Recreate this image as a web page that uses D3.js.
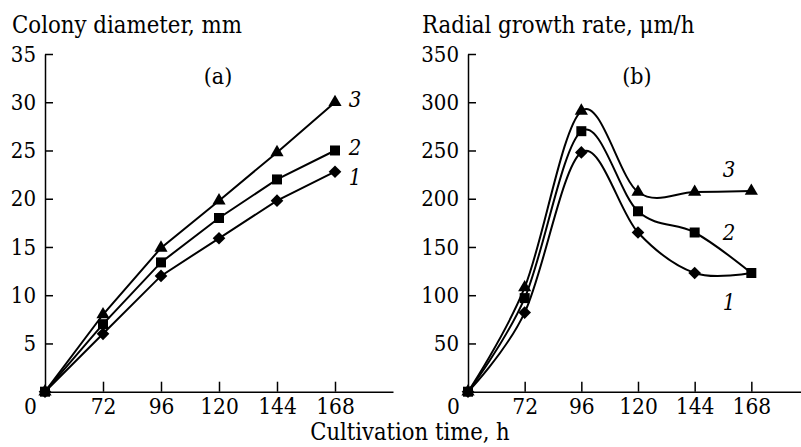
<!DOCTYPE html>
<html>
<head>
<meta charset="utf-8">
<script src="https://cdn.jsdelivr.net/npm/d3@7/dist/d3.min.js"></script>
<style>
  body { margin: 0; background: #fff; }
  .axis path, .axis line { stroke: #000; stroke-width: 1.5; }
</style>
</head>
<body>
<div id="chart"></div>
<script>
// x categories (hours) - last slot is empty, the axis runs a bit past 168
let hours = ["0", "72", "96", "120", "144", "168", ""];

// (a) colony diameter, mm
let diamYTicks = [5, 10, 15, 20, 25, 30, 35];
let diam1 = [0, 6, 12, 15.9, 19.8, 22.8];
let diam2 = [0, 7, 13.4, 18, 22, 25];
let diam3 = [0, 8, 14.9, 19.8, 24.8, 30];

// (b) radial growth rate, um/h
let rateYTicks = [50, 100, 150, 200, 250, 300, 350];
let rate1 = [0, 82, 248, 165, 123, 123];
let rate2 = [0, 97, 270, 187, 165, 123];
let rate3 = [0, 108, 291, 207, 207, 208];

let seriesNames = ["1", "2", "3"];

let width = 801, height = 447;
let font = "DejaVu Serif Condensed";

let svg = d3.select("#chart")
  .append("svg")
  .attr("width", width)
  .attr("height", height)
  .attr("font-family", font);

let symbols = [
  d3.symbol().type(d3.symbolSquare).size(80),   // diamond (rotated square)
  d3.symbol().type(d3.symbolSquare).size(100),
  d3.symbol().type(d3.symbolTriangle).size(75)
];
let rotations = [45, 0, 0];

function drawPanel(opts) {
  let g = svg.append("g");

  let x = d3.scalePoint().domain(hours).range(opts.xRange);
  let y = d3.scaleLinear().domain([0, opts.yMax]).range([391.7, 54]);

  // y axis, ticks pointing inward
  g.append("g")
    .attr("class", "axis")
    .attr("transform", "translate(" + opts.xRange[0] + ",0)")
    .call(d3.axisLeft(y).tickValues(opts.yTicks).tickSizeInner(-8).tickSizeOuter(0).tickPadding(9))
    .attr("font-family", font)
    .attr("font-size", 22);

  // x axis
  let xAxis = g.append("g")
    .attr("class", "axis")
    .attr("transform", "translate(0," + y(0) + ")")
    .call(d3.axisBottom(x).tickValues(hours.slice(0, 6)).tickSizeInner(-10).tickSizeOuter(0).tickPadding(6))
    .attr("font-family", font)
    .attr("font-size", 22.5);
  xAxis.selectAll(".tick").filter(function(d) { return d === "0"; })
    .call(function(t) {
      t.select("line").remove();
      t.select("text").attr("x", -15);
    });

  let line = d3.line()
    .x(function(d, i) { return x(hours[i]); })
    .y(function(d) { return y(d); })
    .curve(opts.curve);

  opts.series.forEach(function(s) {
    g.append("path")
      .datum(s)
      .attr("d", line)
      .attr("fill", "none")
      .attr("stroke", "#000")
      .attr("stroke-width", 2);
  });

  opts.series.forEach(function(s, k) {
    g.selectAll(".m" + k)
      .data(s.map(function(v, i) { return {v: v, i: i}; }))
      .enter()
      // a marker hidden under another series' marker is not drawn
      .filter(function(d) {
        return d.i === 0 || !opts.series.some(function(o, j) { return j > k && o[d.i] === d.v; });
      })
      .append("path")
      .attr("d", symbols[k])
      .attr("fill", "#000")
      .attr("transform", function(d) {
        return "translate(" + x(hours[d.i]) + "," + y(d.v) + ") rotate(" + rotations[k] + ")";
      });
  });

  // series numbers
  opts.labels.forEach(function(l, k) {
    g.append("text")
      .attr("x", opts.labelX(x))
      .attr("y", y(l))
      .attr("dy", "0.35em")
      .attr("text-anchor", "middle")
      .attr("font-size", 22)
      .attr("font-style", "italic")
      .text(seriesNames[k]);
  });

  g.append("text")
    .attr("x", opts.tagX)
    .attr("y", 84)
    .attr("text-anchor", "middle")
    .attr("font-size", 23)
    .text(opts.tag);

  g.append("text")
    .attr("x", opts.titleX)
    .attr("y", 33)
    .attr("font-size", 23.7)
    .text(opts.title);
}

drawPanel({
  xRange: [45, 393],
  yMax: 35,
  yTicks: diamYTicks,
  series: [diam1, diam2, diam3],
  curve: d3.curveLinear,
  labels: [22.2, 25.3, 30.3],
  labelX: function(x) { return x("168") + 20; },
  tag: "(a)",
  tagX: 218,
  title: "Colony diameter, mm",
  titleX: 12
});

drawPanel({
  xRange: [468, 808],
  yMax: 350,
  yTicks: rateYTicks,
  series: [rate1, rate2, rate3],
  curve: d3.curveCardinal.tension(0),
  labels: [93, 165, 230],
  labelX: function(x) { return (x("144") + x("168")) / 2 + 6; },
  tag: "(b)",
  tagX: 637,
  title: "Radial growth rate, \u03bcm/h",
  titleX: 422
});

svg.append("text")
  .attr("x", 410)
  .attr("y", 440)
  .attr("text-anchor", "middle")
  .attr("font-size", 23.5)
  .text("Cultivation time, h");
</script>
</body>
</html>
